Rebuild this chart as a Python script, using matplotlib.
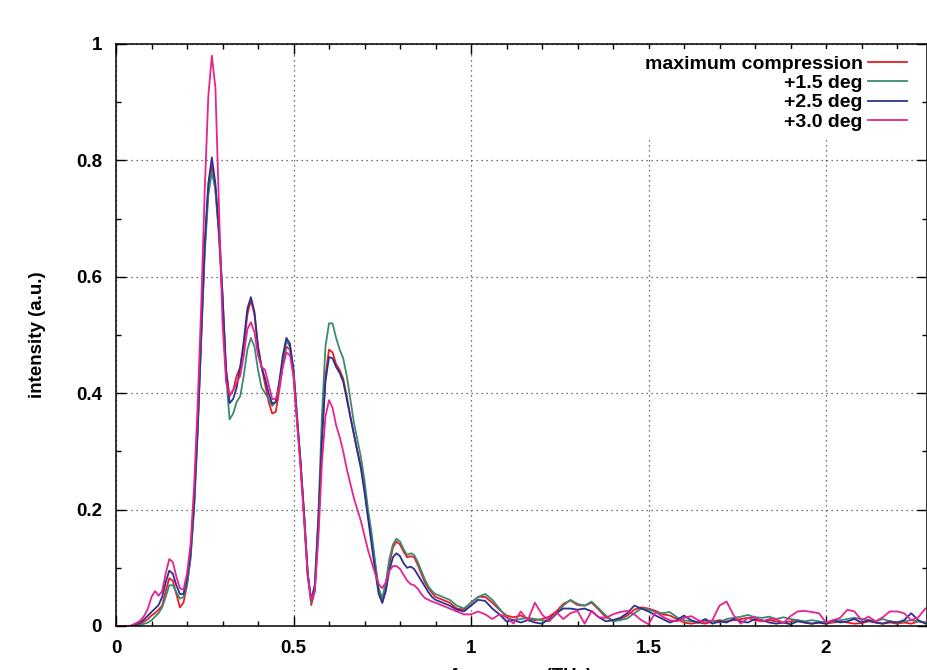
import numpy as np
import matplotlib
matplotlib.use('Agg')
import matplotlib.pyplot as plt
from matplotlib.ticker import MultipleLocator, FormatStrFormatter

# === frequency grid (THz): fine below 0.9, coarser in the noisy tail ===
freq_low = np.round(np.arange(0, 0.905, 0.01), 2)
freq_tail = np.round(np.arange(0.92, 2.285, 0.02), 2)
freq = np.concatenate([freq_low, freq_tail])

labels = ['maximum compression', '+1.5 deg', '+2.5 deg', '+3.0 deg']
colors = ['#ed1c24', '#3a8a72', '#2b3190', '#e6238f']

# --- maximum compression ---
red_low = [0, 0, 0, 0, 0, 0, 0.002, 0.004, 0.008, 0.012,
           0.018, 0.022, 0.028, 0.035, 0.06, 0.082, 0.078, 0.055, 0.032, 0.04,
           0.07, 0.12, 0.21, 0.34, 0.50, 0.65, 0.75, 0.79, 0.75, 0.67,
           0.56, 0.44, 0.395, 0.405, 0.43, 0.445, 0.48, 0.535, 0.56, 0.535,
           0.48, 0.445, 0.415, 0.385, 0.365, 0.368, 0.405, 0.45, 0.48, 0.475,
           0.43, 0.35, 0.28, 0.19, 0.09, 0.036, 0.06, 0.17, 0.32, 0.43,
           0.475, 0.47, 0.45, 0.44, 0.425, 0.395, 0.36, 0.33, 0.30, 0.275,
           0.235, 0.19, 0.15, 0.105, 0.06, 0.04, 0.065, 0.105, 0.135, 0.145,
           0.14, 0.128, 0.118, 0.12, 0.118, 0.105, 0.09, 0.075, 0.065, 0.057,
           0.05]
red_tail = [0.045, 0.04, 0.03, 0.028, 0.04, 0.05, 0.05, 0.04, 0.028, 0.018,
            0.015, 0.018, 0.012, 0.01, 0.012, 0.016, 0.025, 0.038, 0.044, 0.036,
            0.035, 0.04, 0.028, 0.015, 0.01, 0.012, 0.018, 0.028, 0.032, 0.03,
            0.026, 0.02, 0.018, 0.012, 0.006, 0.004, 0.006, 0.004, 0.008, 0.01,
            0.008, 0.01, 0.012, 0.014, 0.01, 0.008, 0.01, 0.008, 0.006, 0.008,
            0.01, 0.006, 0.004, 0.006, 0.004, 0.006, 0.008, 0.006, 0.004, 0.005,
            0.008, 0.006, 0.004, 0.006, 0.004, 0.006, 0.004, 0.008, 0.006]

# --- +1.5 deg ---
green_low = [0, 0, 0, 0, 0, 0, 0, 0.002, 0.004, 0.006,
             0.01, 0.016, 0.022, 0.032, 0.05, 0.07, 0.07, 0.058, 0.047, 0.05,
             0.07, 0.115, 0.20, 0.33, 0.49, 0.64, 0.74, 0.78, 0.75, 0.68,
             0.57, 0.43, 0.355, 0.365, 0.385, 0.395, 0.43, 0.475, 0.495, 0.48,
             0.44, 0.41, 0.40, 0.39, 0.378, 0.385, 0.415, 0.455, 0.49, 0.48,
             0.44, 0.36, 0.28, 0.19, 0.09, 0.04, 0.07, 0.19, 0.36, 0.48,
             0.52, 0.52, 0.495, 0.475, 0.46, 0.43, 0.39, 0.35, 0.32, 0.29,
             0.25, 0.20, 0.16, 0.11, 0.065, 0.048, 0.075, 0.115, 0.14, 0.15,
             0.145, 0.132, 0.122, 0.125, 0.122, 0.11, 0.095, 0.08, 0.068, 0.06,
             0.055]
green_tail = [0.05, 0.045, 0.035, 0.03, 0.04, 0.05, 0.055, 0.045, 0.03, 0.015,
              0.01, 0.012, 0.014, 0.012, 0.01, 0.008, 0.02, 0.035, 0.045, 0.038,
              0.035, 0.042, 0.03, 0.018, 0.008, 0.01, 0.013, 0.022, 0.03, 0.028,
              0.024, 0.022, 0.024, 0.015, 0.01, 0.008, 0.006, 0.01, 0.008, 0.006,
              0.012, 0.014, 0.016, 0.019, 0.015, 0.014, 0.016, 0.012, 0.015, 0.012,
              0.01, 0.008, 0.01, 0.008, 0.006, 0.008, 0.01, 0.012, 0.014, 0.012,
              0.01, 0.008, 0.012, 0.008, 0.006, 0.008, 0.01, 0.008, 0.006]

# --- +2.5 deg ---
blue_low = [0, 0, 0, 0, 0, 0.002, 0.004, 0.007, 0.012, 0.018,
            0.024, 0.03, 0.036, 0.05, 0.075, 0.095, 0.09, 0.07, 0.055, 0.055,
            0.08, 0.125, 0.21, 0.34, 0.50, 0.66, 0.76, 0.805, 0.76, 0.68,
            0.57, 0.44, 0.383, 0.39, 0.41, 0.445, 0.49, 0.545, 0.565, 0.54,
            0.48, 0.445, 0.425, 0.40, 0.382, 0.385, 0.42, 0.465, 0.495, 0.485,
            0.44, 0.36, 0.28, 0.19, 0.09, 0.045, 0.07, 0.18, 0.32, 0.42,
            0.462, 0.46, 0.445, 0.435, 0.42, 0.39, 0.36, 0.33, 0.30, 0.27,
            0.23, 0.185, 0.14, 0.095, 0.055, 0.04, 0.06, 0.095, 0.118, 0.125,
            0.12, 0.108, 0.1, 0.102, 0.098, 0.088, 0.078, 0.068, 0.058, 0.05,
            0.045]
blue_tail = [0.04, 0.035, 0.028, 0.025, 0.035, 0.045, 0.043, 0.03, 0.02, 0.008,
             0.01, 0.006, 0.01, 0.006, 0.004, 0.012, 0.022, 0.03, 0.03, 0.028,
             0.03, 0.025, 0.015, 0.008, 0.01, 0.014, 0.022, 0.035, 0.03, 0.025,
             0.018, 0.012, 0.006, 0.01, 0.018, 0.01, 0.006, 0.012, 0.004, 0.008,
             0.006, 0.012, 0.008, 0.006, 0.012, 0.01, 0.006, 0.004, 0.006, 0.003,
             0.008, 0.006, 0.004, 0.006, 0.004, 0.01, 0.006, 0.008, 0.012, 0.006,
             0.01, 0.006, 0.004, 0.008, 0.006, 0.01, 0.022, 0.01, 0.004]

# --- +3.0 deg ---
pink_low = [0, 0, 0, 0, 0, 0.003, 0.006, 0.01, 0.018, 0.03,
            0.05, 0.06, 0.052, 0.06, 0.09, 0.115, 0.11, 0.085, 0.065, 0.062,
            0.09, 0.14, 0.24, 0.38, 0.55, 0.75, 0.91, 0.98, 0.925, 0.72,
            0.52, 0.42, 0.397, 0.405, 0.418, 0.43, 0.465, 0.51, 0.522, 0.505,
            0.465, 0.445, 0.44, 0.415, 0.39, 0.39, 0.41, 0.445, 0.47, 0.465,
            0.43, 0.35, 0.27, 0.18, 0.085, 0.045, 0.06, 0.15, 0.28, 0.36,
            0.388, 0.375, 0.345, 0.325, 0.30, 0.27, 0.245, 0.22, 0.20, 0.18,
            0.155, 0.13, 0.11, 0.09, 0.072, 0.065, 0.075, 0.095, 0.103, 0.103,
            0.098, 0.088, 0.078, 0.072, 0.07, 0.064, 0.055, 0.048, 0.045, 0.042,
            0.04]
pink_tail = [0.035, 0.03, 0.025, 0.02, 0.02, 0.025, 0.02, 0.012, 0.02, 0.015,
             0.004, 0.025, 0.01, 0.04, 0.02, 0.008, 0.024, 0.012, 0.022, 0.026,
             0.004, 0.026, 0.015, 0.014, 0.02, 0.024, 0.026, 0.02, 0.01, 0.003,
             0.024, 0.016, 0.01, 0.008, 0.014, 0.017, 0.01, 0.006, 0.01, 0.035,
             0.042, 0.018, 0.004, 0.014, 0.015, 0.008, 0.012, 0.012, 0.005, 0.017,
             0.025, 0.026, 0.024, 0.022, 0.006, 0.01, 0.014, 0.028, 0.025, 0.01,
             0.016, 0.008, 0.015, 0.025, 0.025, 0.022, 0.01, 0.015, 0.03]

series = [red_low + red_tail, green_low + green_tail,
          blue_low + blue_tail, pink_low + pink_tail]

plt.rcParams['font.family'] = ['Liberation Sans', 'DejaVu Sans']
plt.rcParams['font.weight'] = 'bold'

fig = plt.figure(figsize=(9.27, 6.70), dpi=100)
ax = fig.add_axes([116 / 927, 44 / 670, 811 / 927, 582 / 670])

for y, lab, col in zip(series, labels, colors):
    ax.plot(freq, y, color=col, lw=1.3, label=lab)

ax.set_xlim(0, 2.2845)
ax.set_ylim(0, 1)

ax.xaxis.set_major_locator(MultipleLocator(0.5))
ax.xaxis.set_minor_locator(MultipleLocator(0.1))
ax.yaxis.set_major_locator(MultipleLocator(0.2))
ax.yaxis.set_minor_locator(MultipleLocator(0.1))
ax.xaxis.set_major_formatter(FormatStrFormatter('%g'))
ax.yaxis.set_major_formatter(FormatStrFormatter('%g'))

ax.tick_params(which='both', direction='in', top=True, right=True,
               labelsize=13.5, width=1.0, pad=10)
ax.tick_params(which='major', length=7)
ax.tick_params(which='minor', length=3.5)
for s in ax.spines.values():
    s.set_linewidth(1.1)

ax.grid(True, which='major', linestyle=(0, (1, 3)), color='#444444', lw=0.9)

ax.set_ylabel('intensity (a.u.)', fontsize=13.5, fontweight='bold')
ax.yaxis.set_label_coords(-0.086, 0.5)
# the x label sits partly below the lower edge, as in the reference picture
ax.set_xlabel('frequency (THz)', fontsize=13.5, fontweight='bold', labelpad=8)

# key: text on the left, right-aligned, line sample on the right
ax.legend(loc='upper right', bbox_to_anchor=(0.982, 0.991), markerfirst=False,
          frameon=True, fancybox=False, edgecolor='none', framealpha=1,
          handlelength=2.0, handletextpad=0.25, labelspacing=0.09,
          borderpad=0.3, borderaxespad=0, fontsize=14)

fig.savefig('out.png', dpi=100)
